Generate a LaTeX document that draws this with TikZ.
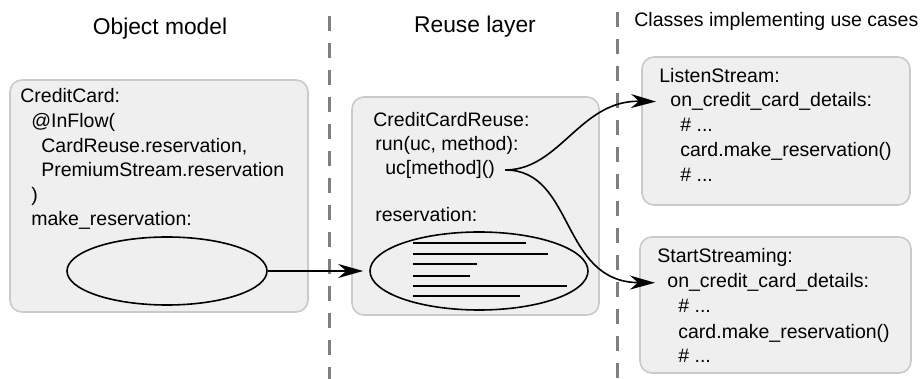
\documentclass[tikz,border=0pt]{standalone}
\usepackage{fontspec}
\setmainfont{Liberation Sans}
\usepackage{tikz}
\usetikzlibrary{shapes.geometric,arrows.meta}
\definecolor{boxfill}{HTML}{EFEFEF}
\definecolor{boxline}{HTML}{CACACA}
\definecolor{divider}{HTML}{7F7F7F}
\tikzset{
  box/.style={draw=boxline, fill=boxfill, line width=0.8pt, rounded corners=6pt},
  divline/.style={draw=divider, line width=1.5pt, dash pattern=on 7.5pt off 6pt},
  title/.style={font=\fontsize{11.4}{14}\selectfont, anchor=base, inner sep=0pt},
  code/.style={font=\fontsize{9.75}{12}\selectfont, anchor=base west, inner sep=0pt},
  blob/.style={ellipse, draw, line width=0.8pt, inner sep=0pt},
  flow/.style={draw, line width=0.8pt, -{Stealth[length=12.5pt,width=7pt,inset=4pt]}},
  scribble/.style={draw, line width=0.9pt}
}

\begin{document}
\begin{tikzpicture}[x=0.5pt,y=-0.5pt]
  \useasboundingbox (0,0) rectangle (921,379);

  % column titles and dividers
  \node[title] (objtitle) at (160,35) {Object model};
  \node[title] (reusetitle) at (475,33) {Reuse layer};
  \node[code] (classtitle) at (634,27) {Classes implementing use cases};
  \draw[divline] (329,16) -- (329,379);
  \draw[divline] (617,12) -- (617,379);

  % object model
  \draw[box] (10,80) rectangle (308,312);
  \node[code] (cc1) at (20,103) {CreditCard:};
  \node[code] (cc2) at (31,128) {@InFlow(};
  \node[code] (cc3) at (41,153) {CardReuse.reservation,};
  \node[code] (cc4) at (41,177) {PremiumStream.reservation};
  \node[code] (cc5) at (31,202) {)};
  \node[code] (cc6) at (31,226) {make\_reservation:};
  \node[blob, minimum width=100pt, minimum height=34pt] (opblob) at (167,271) {};

  % reuse layer
  \draw[box] (352,97) rectangle (599,315);
  \node[code] (cr1) at (373,127) {CreditCardReuse:};
  \node[code] (cr2) at (375,151) {run(uc, method):};
  \node[code] (cr3) at (385,175) {uc[method]()};
  \node[code] (cr4) at (375,222) {reservation:};
  \node[blob, minimum width=109pt, minimum height=39pt] (reblob) at (479,271) {};
  \foreach \yy/\xe in {243/526, 254/548, 264/477, 276/470, 286/567, 296/520}
    \draw[scribble] (413,\yy) -- (\xe,\yy);

  % use case classes
  \draw[box] (642,57) rectangle (910,205);
  \node[code] (ls1) at (659,83) {ListenStream:};
  \node[code] (ls2) at (670,107) {on\_credit\_card\_details:};
  \node[code] (ls3) at (680,132) {\# ...};
  \node[code] (ls4) at (680,157) {card.make\_reservation()};
  \node[code] (ls5) at (680,182) {\# ...};

  \draw[box] (640,237) rectangle (911,373);
  \node[code] (ss1) at (657,263) {StartStreaming:};
  \node[code] (ss2) at (667,288) {on\_credit\_card\_details:};
  \node[code] (ss3) at (678,313) {\# ...};
  \node[code] (ss4) at (678,338) {card.make\_reservation()};
  \node[code] (ss5) at (678,362) {\# ...};

  % connectors
  \draw[flow, shorten >=3pt] (opblob.east) -- (reblob.west);
  \draw[flow, shorten <=5pt, shorten >=7pt] (cr3.east) .. controls (560,170) and (580,100) .. (ls2.west);
  \draw[flow, shorten <=5pt, shorten >=6pt] (cr3.east) .. controls (575,170) and (560,282) .. (ss2.west);
\end{tikzpicture}
\end{document}
